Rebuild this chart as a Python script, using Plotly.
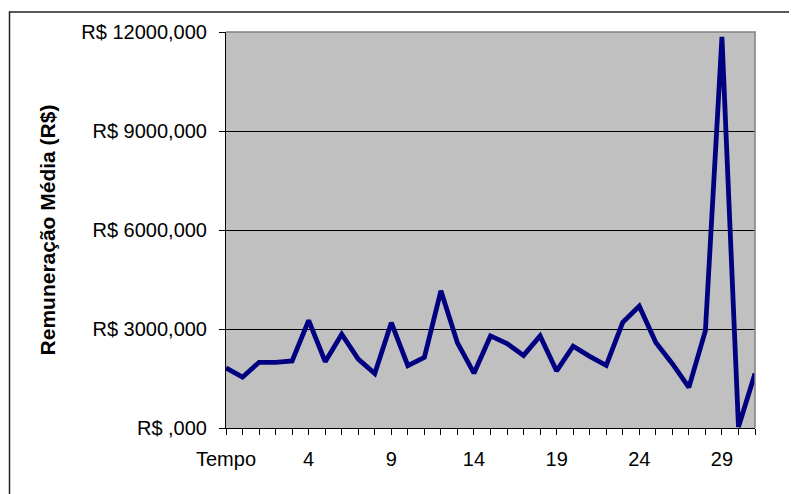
import plotly.graph_objects as go

# ---- data ----
categories = ["Tempo"] + [str(i) for i in range(0, 32)]
remuneracao = [1820, 1540, 1990, 1990, 2030, 3260, 2010, 2840, 2090, 1650,
               3190, 1890, 2140, 4160, 2580, 1660, 2790, 2560, 2200, 2790,
               1730, 2480, 2170, 1900, 3200, 3690, 2590, 1950, 1230, 2950,
               11850, 30, 1650]
y_tick_values = [0, 3000, 6000, 9000, 12000]
y_tick_labels = ["R$ ,000", "R$ 3000,000", "R$ 6000,000", "R$ 9000,000", "R$ 12000,000"]
label_every = 5

positions = list(range(len(categories)))
x_tick_text = [c if i % label_every == 0 else "" for i, c in enumerate(categories)]

# page is 797x494, but the html body has an 8px margin
OFF = 8
PAGE_W, PAGE_H = 797, 494
PL, PR, PT, PB = 226, 755, 32, 428          # plot area in page pixels
W, H = PAGE_W - OFF, PAGE_H - OFF
L, T = PL - OFF, PT - OFF
R, B = PAGE_W - PR, PAGE_H - PB
pw, ph = PR - PL, PB - PT

fig = go.Figure()
fig.add_trace(go.Scatter(
    x=positions, y=remuneracao, mode="lines",
    line=dict(color="#000080", width=4.8),
    hoverinfo="skip", showlegend=False,
))

font = "Liberation Sans, Arial, sans-serif"

fig.update_layout(
    width=W, height=H,
    margin=dict(l=L, r=R, t=T, b=B, pad=0),
    paper_bgcolor="white", plot_bgcolor="#C0C0C0",
    font=dict(family=font, size=20, color="black"),
    xaxis=dict(
        range=[0, len(categories) - 1],
        tickmode="array", tickvals=positions, ticktext=x_tick_text,
        ticks="outside", ticklen=6, tickcolor="black", tickwidth=1,
        showline=True, linecolor="black", linewidth=1,
        showgrid=False, zeroline=False,
        tickfont=dict(family=font, size=20, color="black"),
        ticklabelstandoff=7,
    ),
    yaxis=dict(
        range=[0, 12000],
        tickmode="array", tickvals=y_tick_values, ticktext=y_tick_labels,
        ticks="outside", ticklen=6, tickcolor="black", tickwidth=1,
        showline=True, linecolor="black", linewidth=1,
        showgrid=True, gridcolor="black", gridwidth=1, zeroline=False,
        tickfont=dict(family=font, size=20, color="black"),
        ticklabelstandoff=8,
        title=dict(text="<b>Remuneração Média (R$)</b>",
                   font=dict(family=font, size=21, color="black"),
                   standoff=19),
    ),
    shapes=[
        # grey top/right plot border
        dict(type="path", xref="paper", yref="paper",
             path="M 0,1 L 1,1 L 1,0", line=dict(color="#808080", width=1.5),
             layer="above"),
        # outer chart frame
        dict(type="rect", xref="paper", yref="paper",
             x0=(9.5 - PL) / pw, x1=(PAGE_W + 10 - PL) / pw,
             y0=-(PAGE_H + 10 - PB) / ph, y1=1 + (PT - 12) / ph,
             line=dict(color="#222222", width=1.5), fillcolor="rgba(0,0,0,0)",
             layer="below"),
    ],
)

fig.write_html("out.html")
